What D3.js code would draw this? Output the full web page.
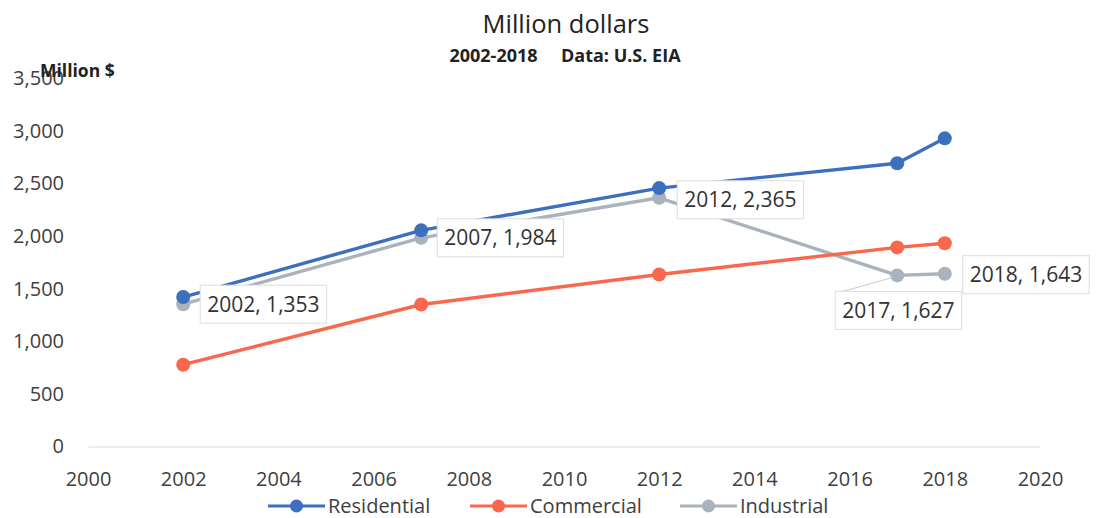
<!DOCTYPE html>
<html>
<head>
<meta charset="utf-8">
<script src="https://cdn.jsdelivr.net/npm/d3@7/dist/d3.min.js"></script>
<style>
  html, body { margin: 0; padding: 0; background: #fff; }
  svg { display: block; font-family: "Open Sans", "Noto Sans", sans-serif; }
</style>
</head>
<body>
<svg id="chart" width="1103" height="518"></svg>
<script>
// Sector series, million dollars
const years = [2002, 2007, 2012, 2017, 2018];
const residential = [1421, 2055, 2457, 2693, 2930];
const commercial = [778, 1350, 1636, 1893, 1932];
const industrial = [1353, 1984, 2365, 1627, 1643];
const seriesNames = ["Residential", "Commercial", "Industrial"];
const xTicks = [2000, 2002, 2004, 2006, 2008, 2010, 2012, 2014, 2016, 2018, 2020];
const yTicks = [0, 500, 1000, 1500, 2000, 2500, 3000, 3500];

const colors = { Residential: "#3c6fbe", Commercial: "#f9684d", Industrial: "#aab2be" };

const svg = d3.select("#chart");
const x = d3.scaleLinear().domain([2000, 2020]).range([88, 1040]);
const y = d3.scaleLinear().domain([0, 3500]).range([446.5, 78.4]);

// Titles
svg.append("text").attr("x", 566).attr("y", 33).attr("text-anchor", "middle")
  .attr("font-size", 25.5).attr("fill", "#222").text("Million dollars");
svg.append("text").attr("x", 565).attr("y", 62).attr("text-anchor", "middle")
  .attr("font-size", 18).attr("font-weight", "bold").attr("fill", "#222")
  .attr("xml:space", "preserve").text("2002-2018     Data: U.S. EIA");

// Axes
const yAxis = svg.append("g").attr("transform", `translate(${x(2000)},0)`)
  .call(d3.axisLeft(y).tickValues(yTicks).tickFormat(d3.format(",")).tickSize(0).tickPadding(24));
yAxis.select(".domain").remove();
yAxis.selectAll("text").attr("font-size", 20).attr("fill", "#404040")
  .attr("font-family", "Open Sans, sans-serif");

const xAxis = svg.append("g").attr("transform", `translate(0,${y(0)})`)
  .call(d3.axisBottom(x).tickValues(xTicks).tickFormat(d3.format("d")).tickSize(0).tickPadding(25));
xAxis.select(".domain").attr("stroke", "#dcdcdc").attr("stroke-width", 1.2);
xAxis.selectAll("text").attr("font-size", 20).attr("fill", "#404040")
  .attr("font-family", "Open Sans, sans-serif");

svg.append("text").attr("x", 40).attr("y", 77).attr("font-size", 17.5)
  .attr("font-weight", "bold").attr("fill", "#222").text("Million $");

// Lines and markers
const line = d3.line().x(d => x(d[0])).y(d => y(d[1]));
const data = [
  ["Residential", residential],
  ["Commercial", commercial],
  ["Industrial", industrial]
];
// Industrial drawn first so the residential line sits on top
[data[2], data[1], data[0]].forEach(([name, vals]) => {
  const pts = years.map((yr, i) => [yr, vals[i]]);
  const g = svg.append("g");
  g.append("path").datum(pts).attr("d", line).attr("fill", "none")
    .attr("stroke", colors[name]).attr("stroke-width", 3.4).attr("stroke-linejoin", "round");
  g.selectAll("circle").data(pts).join("circle")
    .attr("cx", d => x(d[0])).attr("cy", d => y(d[1])).attr("r", 7)
    .attr("fill", colors[name]);
});

// Data labels for the industrial series (box offsets from each point)
const labelFmt = d3.format(",");
const labelOffsets = [
  { dx: 17, dy: 0 },
  { dx: 16, dy: 0 },
  { dx: 18, dy: 2 },
  { dx: -62, dy: 35 },
  { dx: 18, dy: 1 }
];
// Leader from the 2017 label up to its point
svg.append("line").attr("x1", x(2017) - 4).attr("y1", y(industrial[3]) + 2)
  .attr("x2", x(2017) - 58).attr("y2", y(industrial[3]) + 17)
  .attr("stroke", "#c8ccd2").attr("stroke-width", 1);
years.forEach((yr, i) => {
  const o = labelOffsets[i];
  const px = x(yr), py = y(industrial[i]);
  const g = svg.append("g").attr("transform", `translate(${px + o.dx},${py + o.dy})`);
  const t = g.append("text").attr("x", 7).attr("y", 0).attr("dy", "0.35em")
    .attr("font-size", 21).attr("fill", "#333").text(`${yr}, ${labelFmt(industrial[i])}`);
  const bb = t.node().getBBox();
  g.insert("rect", "text").attr("x", 0).attr("y", -19)
    .attr("width", bb.width + 14).attr("height", 38)
    .attr("fill", "#fff").attr("stroke", "#dcdcdc").attr("stroke-width", 1);
});

// Legend
const legendX = [268, 470, 680];
seriesNames.forEach((name, i) => {
  const lx = legendX[i], ly = 506;
  svg.append("line").attr("x1", lx).attr("x2", lx + 57).attr("y1", ly).attr("y2", ly)
    .attr("stroke", colors[name]).attr("stroke-width", 3);
  svg.append("circle").attr("cx", lx + 28.5).attr("cy", ly).attr("r", 6.5).attr("fill", colors[name]);
  svg.append("text").attr("x", lx + 60).attr("y", ly).attr("dy", "0.33em")
    .attr("font-size", 20).attr("fill", "#404040").text(name);
});
</script>
</body>
</html>
